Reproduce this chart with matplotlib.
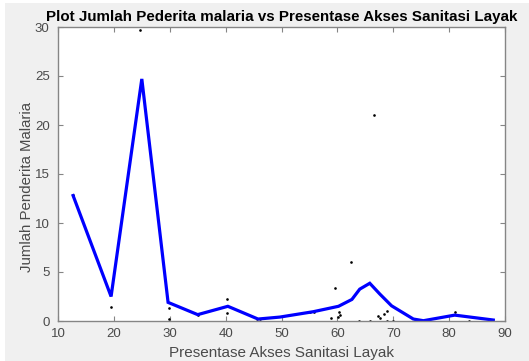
import matplotlib
matplotlib.use("Agg")
import matplotlib.pyplot as plt
from matplotlib.patches import Rectangle

# Observed data: sanitation access (%) vs number of malaria cases
akses_sanitasi = [12.7, 19.5, 24.7, 29.8, 29.9, 35.1, 40.3, 40.3, 45.6, 46.2,
                  55.1, 55.9, 58.8, 59.6, 60.2, 60.3, 60.5, 62.4, 63.9, 65.8,
                  66.6, 67.2, 67.6, 68.4, 68.8, 68.9, 69.9, 73.9, 75.3, 81.0,
                  83.6, 87.9]
jumlah_penderita = [12.9, 1.4, 29.7, 1.3, 0.2, 0.6, 2.2, 0.8, 0.2, 0.2,
                    0.9, 0.9, 0.35, 3.35, 0.4, 0.9, 0.6, 6.0, 0.05, 0.05,
                    21.0, 0.55, 0.35, 0.7, 0.05, 1.0, 0.05, 0.05, 0.0, 0.95,
                    0.05, 0.05]

# Smoothed trend curve
trend_x = [12.7, 19.5, 25.0, 29.7, 35.0, 40.4, 45.8, 49.7, 55.7, 60.2,
           62.6, 64.0, 65.8, 67.6, 69.7, 73.6, 75.4, 81.0, 87.9]
trend_y = [12.8, 2.5, 24.7, 1.9, 0.65, 1.5, 0.2, 0.4, 0.95, 1.5,
           2.2, 3.25, 3.85, 2.75, 1.55, 0.2, 0.03, 0.6, 0.1]

x_ticks = [10, 20, 30, 40, 50, 60, 70, 80, 90]
y_ticks = [0, 5, 10, 15, 20, 25, 30]

plt.rcParams["font.family"] = ["Liberation Sans", "DejaVu Sans"]

fig = plt.figure(figsize=(5.29, 3.61), dpi=100, facecolor="#f0f0f0")
# thin white margin along the left and top of the window
fig.patches.append(Rectangle((0, 0), 5 / 529, 1, transform=fig.transFigure,
                             facecolor="white", edgecolor="none", zorder=-1))
fig.patches.append(Rectangle((0, 1 - 3 / 361), 1, 3 / 361, transform=fig.transFigure,
                             facecolor="white", edgecolor="none", zorder=-1))

ax = fig.add_axes([58 / 529, 40 / 361, 447 / 529, 294 / 361])
ax.set_facecolor("white")

ax.plot(akses_sanitasi, jumlah_penderita, linestyle="none", marker="o",
        markersize=1.9, markeredgewidth=0, color="black")
ax.plot(trend_x, trend_y, color="#0000ff", linewidth=2.3, solid_joinstyle="miter")

ax.set_xlim(10, 90)
ax.set_ylim(0, 30)
ax.set_xticks(x_ticks)
ax.set_yticks(y_ticks)

axis_color = "#858585"
for spine in ax.spines.values():
    spine.set_color(axis_color)
    spine.set_linewidth(1.0)
ax.tick_params(direction="in", length=3.5, width=0.8, color=axis_color,
               labelcolor="#4a4a4a", labelsize=9.5, top=True, right=True)
ax.tick_params(axis="x", pad=5)
ax.tick_params(axis="y", pad=6)

ax.set_title("Plot Jumlah Pederita malaria vs Presentase Akses Sanitasi Layak",
             fontsize=10.9, fontweight="bold", color="black", pad=4)
ax.set_xlabel("Presentase Akses Sanitasi Layak", fontsize=11,
              color="#4a4a4a", labelpad=4)
ax.set_ylabel("Jumlah Penderita Malaria", fontsize=10.8, color="#4a4a4a")
ax.yaxis.set_label_coords(-24 / 447, 0.455)

fig.savefig("out.png", dpi=100, facecolor=fig.get_facecolor())
